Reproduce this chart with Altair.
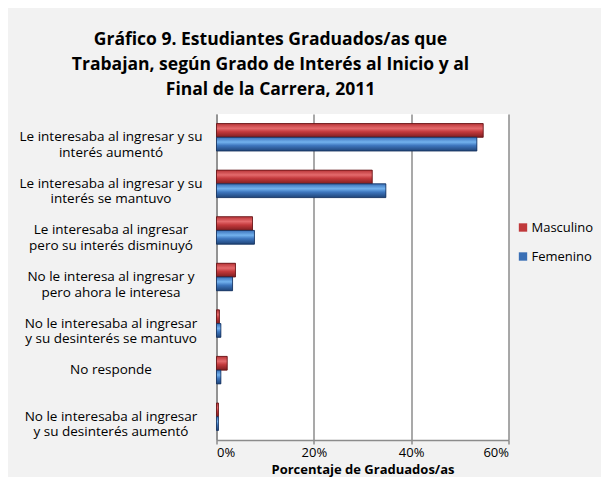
import altair as alt
import pandas as pd

categories = [
    "Le interesaba al ingresar y su|interés aumentó",
    "Le interesaba al ingresar y su|interés se mantuvo",
    "Le interesaba al ingresar|pero su interés disminuyó",
    "No le interesa al ingresar y|pero ahora le interesa",
    "No le interesaba al ingresar|y su desinterés se mantuvo",
    "No responde",
    "No le interesaba al ingresar|y su desinterés aumentó",
]
masculino = [54.8, 32.0, 7.4, 3.9, 0.6, 2.2, 0.4]
femenino = [53.5, 34.8, 7.8, 3.3, 0.9, 0.9, 0.4]
series = ["Masculino", "Femenino"]
title_lines = [
    "Gráfico 9. Estudiantes Graduados/as que",
    "Trabajan, según Grado de Interés al Inicio y al",
    "Final de la Carrera, 2011",
]

rows = []
for c, m, f in zip(categories, masculino, femenino):
    rows.append({"cat": c, "serie": "Masculino", "val": m / 100})
    rows.append({"cat": c, "serie": "Femenino", "val": f / 100})
df = pd.DataFrame(rows)

FONT = "Open Sans"
FS = 13.5

y_enc = alt.Y(
    "cat:N",
    sort=categories,
    scale=alt.Scale(paddingInner=0.41, paddingOuter=0.205),
    axis=alt.Axis(
        title=None,
        labelExpr="split(datum.label, '|')",
        labelAlign="center",
        labelBaseline="middle",
        labelPadding=106,
        labelLineHeight=15.5,
        labelFontSize=FS,
        labelFont=FONT,
        labelColor="#000000",
        ticks=False,
        domainColor="#8c8c8c",
        domainWidth=1.5,
        labelLimit=300,
    ),
)
x_enc = alt.X(
    "val:Q",
    scale=alt.Scale(domain=[0, 0.6]),
    axis=alt.Axis(
        values=[0, 0.2, 0.4, 0.6],
        format=".0%",
        title="Porcentaje de Graduados/as",
        titleFont=FONT,
        titleFontSize=13,
        titleFontWeight="bold",
        titleColor="#000000",
        titlePadding=4,
        labelFont=FONT,
        labelFontSize=13,
        labelColor="#000000",
        labelPadding=2,
        tickSize=4,
        tickColor="#8c8c8c",
        tickWidth=1.5,
        domainColor="#8c8c8c",
        domainWidth=1.5,
        gridColor="#8c8c8c",
        gridWidth=1.5,
    ),
)
yoff = alt.YOffset("serie:N", sort=series, scale=alt.Scale(domain=series))

base = alt.Chart(df)

solid = base.mark_bar().encode(
    x=x_enc,
    y=y_enc,
    yOffset=yoff,
    color=alt.Color(
        "serie:N",
        scale=alt.Scale(domain=series, range=["#C0393B", "#3A6FB5"]),
        legend=alt.Legend(
            title=None,
            orient="none",
            legendX=300,
            legendY=107,
            symbolType="square",
            symbolSize=70,
            symbolStrokeWidth=0,
            labelFont=FONT,
            labelFontSize=13,
            labelColor="#000000",
            rowPadding=15,
            labelOffset=2,
        ),
    ),
)

red_grad = alt.Gradient(
    gradient="linear", x1=0, y1=0, x2=0, y2=1,
    stops=[
        alt.GradientStop(color="#B83437", offset=0),
        alt.GradientStop(color="#E46A6C", offset=0.35),
        alt.GradientStop(color="#C3393C", offset=0.6),
        alt.GradientStop(color="#7E1E20", offset=1),
    ],
)
blue_grad = alt.Gradient(
    gradient="linear", x1=0, y1=0, x2=0, y2=1,
    stops=[
        alt.GradientStop(color="#3A70B8", offset=0),
        alt.GradientStop(color="#73B2EE", offset=0.35),
        alt.GradientStop(color="#3E76BE", offset=0.6),
        alt.GradientStop(color="#1F4478", offset=1),
    ],
)

red = base.transform_filter(alt.datum.serie == "Masculino").mark_bar(
    color=red_grad, stroke="#5E1214", strokeWidth=0.8
).encode(x=x_enc, y=y_enc, yOffset=yoff)
blue = base.transform_filter(alt.datum.serie == "Femenino").mark_bar(
    color=blue_grad, stroke="#15305A", strokeWidth=0.8
).encode(x=x_enc, y=y_enc, yOffset=yoff)

chart = (
    alt.layer(solid, red, blue)
    .properties(
        width=292,
        height=326,
        autosize=alt.AutoSizeParams(type="none"),
        padding={"left": 208.5, "top": 106, "right": 92, "bottom": 37},
        background="#f2f2f2",
        title=alt.TitleParams(
            text=title_lines,
            font=FONT,
            fontSize=17.5,
            fontWeight="bold",
            color="#000000",
            lineHeight=25,
            anchor="middle",
            dx=-92,
            offset=16,
        ),
    )
    .configure_view(fill="#ffffff", strokeWidth=0)
)

chart.save("out.html", embed_options={"renderer": "svg", "actions": False})
